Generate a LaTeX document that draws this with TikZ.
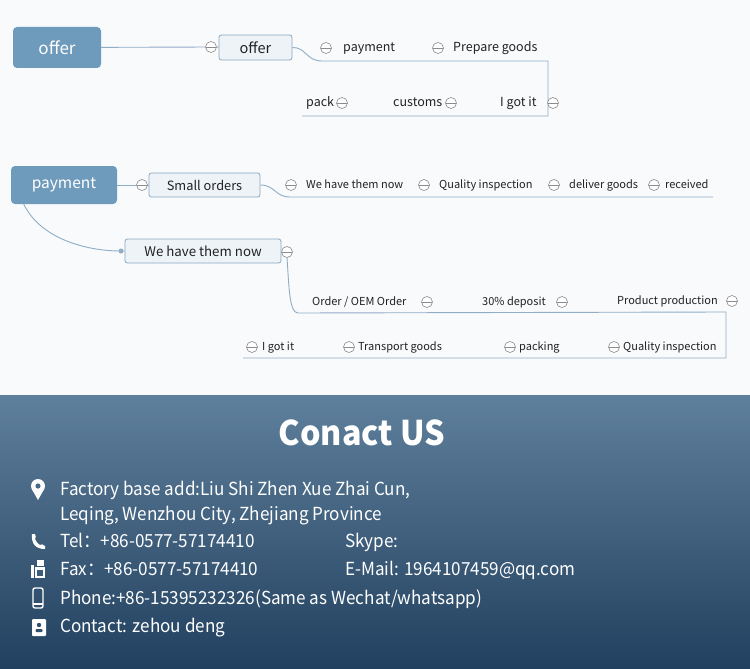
\documentclass[tikz,border=0pt]{standalone}
\usepackage{fontspec}
\setmainfont{Noto Sans CJK SC}
\newfontfamily\narrowfont{Noto Sans CJK SC}[FakeStretch=0.95]
\usetikzlibrary{positioning}

\definecolor{rootblue}{HTML}{6E9BBC}
\definecolor{childfill}{HTML}{EEF3F8}
\definecolor{childline}{HTML}{86A7C2}
\definecolor{linkblue}{HTML}{8FADC6}
\definecolor{foldgray}{HTML}{8C8C8C}
\definecolor{inkgray}{HTML}{222222}
\definecolor{paper}{HTML}{F9FAFB}
\definecolor{bandtop}{HTML}{5F809C}
\definecolor{bandbottom}{HTML}{21405F}

\tikzset{
  rootbox/.style={fill=rootblue, rounded corners=4pt, text=white, font=\fontsize{17}{17}\selectfont, inner sep=0pt},
  childbox/.style={draw=childline, fill=childfill, rounded corners=2.5pt, text=inkgray, font=\fontsize{13.3}{13.3}\selectfont, inner sep=0pt, line width=0.8pt},
  link/.style={draw=linkblue, line width=0.9pt},
  fold/.style={circle, draw=foldgray, fill=white, minimum size=11pt, inner sep=0pt, line width=0.6pt,
    path picture={\draw[foldgray, line width=0.6pt] (path picture bounding box.west) -- (path picture bounding box.east);}},
  lbl/.style={anchor=mid west, inner sep=0pt, text=inkgray, font=\fontsize{11}{11}\selectfont},
  biglbl/.style={lbl, font=\fontsize{12.5}{12.5}\selectfont},
  info/.style={anchor=base west, inner sep=0pt, text=white, font=\narrowfont\fontsize{18}{18}\selectfont},
}

\begin{document}
\begin{tikzpicture}[x=1pt, y=-1pt]
        \useasboundingbox (0,0) rectangle (750,669);
        \fill[paper] (0,0) rectangle (750,395);
        \shade[top color=bandtop, bottom color=bandbottom] (0,395) rectangle (750,669);

        % offer
        \node[rootbox, minimum width=88, minimum height=41] (offerroot) at (57,47.5) {offer};
        \node[fold] (f0) at (211,47) {};
        \node[childbox, minimum width=73, minimum height=25, font=\fontsize{14.5}{14.5}\selectfont] (offerbox) at (255.5,47.5) {offer};
        \draw[link] (offerroot) -- (f0);
        \draw[link] (f0) -- (offerbox);

        \coordinate (o1) at (322,61);
        \coordinate (o2) at (548,61);
        \coordinate (o3) at (548,116);
        \coordinate (o4) at (302,116);
        \draw[link] (offerbox.east) .. controls (306,47) and (306,61) .. (o1) -- (o2) -- (o3) -- (o4);

        \node[fold] (f1) at (326,48) {};
        \node[biglbl] (payment) at (343,49) {payment};
        \node[fold] (f2) at (438,48) {};
        \node[biglbl] (prepare) at (453,49) {Prepare goods};

        \node[biglbl] (pack) at (306,104) {pack};
        \node[fold] (f3) at (342,103) {};
        \node[biglbl] (customs) at (393,104) {customs};
        \node[fold] (f4) at (451,103) {};
        \node[biglbl] (gotit) at (500,104) {I got it};
        \node[fold] (f5) at (553,103) {};

        % payment
        \node[rootbox, minimum width=106, minimum height=38, font=\fontsize{15.5}{15.5}\selectfont] (payroot) at (64,185) {payment};
        \node[fold] (f6) at (142,185) {};
        \node[childbox, minimum width=111, minimum height=24, font=\fontsize{12.8}{12.8}\selectfont] (smallbox) at (204.5,185) {Small orders};
        \draw[link] (payroot) -- (f6);
        \draw[link] (f6) -- (smallbox);

        \coordinate (s1) at (290,197);
        \coordinate (s2) at (713,197);
        \draw[link] (smallbox.east) .. controls (275,185) and (275,197) .. (s1) -- (s2);

        \node[fold] (f7) at (291,185) {};
        \node[lbl] (havenow) at (306,186) {We have them now};
        \node[fold] (f8) at (424,185) {};
        \node[lbl] (quality) at (439,186) {Quality inspection};
        \node[fold] (f9) at (554,185) {};
        \node[lbl] (deliver) at (569,186) {deliver goods};
        \node[fold] (f10) at (654,185) {};
        \node[lbl] (received) at (665,186) {received};

        \node[childbox, minimum width=156, minimum height=24] (stockbox) at (203,251) {We have them now};
        \coordinate (dot) at (121,251);
        \draw[link] ([xshift=13]payroot.south west) .. controls (40,238) and (85,251) .. (dot) -- (stockbox);
        \fill[linkblue] (dot) circle (2.5);
        \node[fold] (f11) at (287,252) {};

        \coordinate (t1) at (298,313);
        \coordinate (t2) at (726,312);
        \coordinate (t3) at (726,358);
        \coordinate (t4) at (243,358);
        \draw[link] (f11.south) .. controls (289,285) and (289,313) .. (t1) -- (t2) -- (t3) -- (t4);

        \node[lbl] (order) at (312,303) {Order / OEM Order};
        \node[fold] (f12) at (427,302) {};
        \node[lbl] (deposit) at (482,303) {30\% deposit};
        \node[fold] (f13) at (562,302) {};
        \node[lbl] (production) at (617,302) {Product production};
        \node[fold] (f14) at (732,301) {};

        \node[fold] (f15) at (252,347) {};
        \node[lbl] (gotit2) at (262,348) {I got it};
        \node[fold] (f16) at (349,347) {};
        \node[lbl] (transport) at (358,348) {Transport goods};
        \node[fold] (f17) at (510,347) {};
        \node[lbl] (packing) at (519,348) {packing};
        \node[fold] (f18) at (614,347) {};
        \node[lbl] (quality2) at (623,348) {Quality inspection};

        % contact
        \node[anchor=base, inner sep=0pt, text=white, font=\narrowfont\bfseries\fontsize{34}{34}\selectfont] (title) at (362,445) {Conact US};

        \fill[white] (38,486) circle (7);
        \fill[white] (31.8,489) -- (38,500) -- (44.2,489) -- cycle;
        \fill[bandtop!67!bandbottom] (38,486) circle (2.6);
        \node[info] (addr) at (60,495) {Factory base add:Liu Shi Zhen Xue Zhai Cun,};
        \node[info] (addr2) at (60,520) {Leqing, Wenzhou City, Zhejiang Province};

        \fill[white] (32,534) .. controls (31,544) and (36,549) .. (45,549) -- (45,546)
            .. controls (43,544) and (41,544) .. (40,545) .. controls (37,543) and (36,541) .. (35,539)
            .. controls (36,538) and (36,536) .. (35,534) -- cycle;
        \node[info] (tel) at (60,547) {Tel：+86-0577-57174410};
        \node[info] (skype) at (345,547) {Skype:};

        \fill[white] (31,565) rectangle (34,578);
        \fill[white] (35,567) rectangle (45,578);
        \fill[white] (37,560) rectangle (44,566);
        \fill[bandtop!45!bandbottom] (37,570) rectangle (43,576);
        \node[info] (fax) at (60,575) {Fax：+86-0577-57174410};
        \node[info] (mail) at (345,575) {E-Mail: 1964107459@qq.com};

        \draw[white, line width=1.4pt, rounded corners=2pt] (33,588) rectangle (43,608);
        \draw[white, line width=1.2pt] (33,604) -- (43,604);
        \node[info] (phone) at (60,604) {Phone:+86-15395232326(Same as Wechat/whatsapp)};

        \fill[white, rounded corners=1pt] (32,619) rectangle (46,636);
        \fill[bandtop!25!bandbottom] (39,625) circle (2.2);
        \fill[bandtop!25!bandbottom, rounded corners=1pt] (35.5,632) rectangle (42.5,629);
        \node[info] (contact) at (60,632) {Contact: zehou deng};
\end{tikzpicture}
\end{document}
